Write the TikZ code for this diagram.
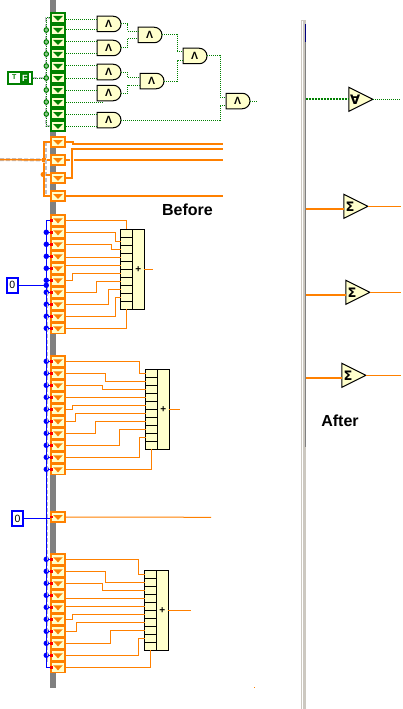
\documentclass[tikz,border=0pt]{standalone}
\usepackage{fontspec}
\setmainfont{Liberation Sans}
\newfontfamily\symfont{DejaVu Sans}
\usepackage{xcolor}
\usetikzlibrary{calc,shapes.geometric,shapes.misc}
\definecolor{wireOrange}{RGB}{255,128,0}
\definecolor{wireGreen}{RGB}{0,128,0}
\definecolor{cellYellow}{RGB}{255,255,204}
\definecolor{barGray}{RGB}{128,128,128}
\definecolor{sashGray}{RGB}{204,200,192}
\definecolor{antGray}{RGB}{192,192,200}
\tikzset{
  tunnel/.style={rectangle,fill=#1,minimum width=16pt,minimum height=12pt,inner sep=0pt,outer sep=0pt,
    path picture={
      \fill[cellYellow] ([shift={(-6,-4.2)}]path picture bounding box.center) rectangle ([shift={(6,4.2)}]path picture bounding box.center);
      \fill[#1] ([shift={(-4.8,-2)}]path picture bounding box.center) -- ([shift={(4.8,-2)}]path picture bounding box.center) -- ([shift={(0,3)}]path picture bounding box.center) -- cycle;}},
  gate/.style={rounded rectangle,rounded rectangle left arc=none,draw=black,line width=1pt,fill=cellYellow,minimum width=24pt,minimum height=15.5pt,inner sep=0pt,outer sep=0pt,font=\bfseries\fontsize{10.5}{10.5}\selectfont},
  tri/.style={isosceles triangle,isosceles triangle stretches,draw=black,line width=1pt,fill=cellYellow,minimum width=24pt,minimum height=24pt,inner sep=0pt,outer sep=0pt,font=\symfont\bfseries\fontsize{13}{13}\selectfont},
  portbox/.style={rectangle,draw=black,line width=1pt,fill=cellYellow,minimum width=12pt,minimum height=8pt,inner sep=0pt,outer sep=0pt},
  sumbox/.style={rectangle,draw=black,line width=1pt,fill=cellYellow,minimum width=11.4pt,minimum height=80pt,inner sep=0pt,outer sep=0pt,font=\bfseries\fontsize{10}{10}\selectfont},
  thinwire/.style={wireOrange,line width=1pt},
  thickwire/.style={wireOrange,line width=2pt},
  dotwire/.style={wireGreen,line width=1pt,dash pattern=on 1pt off 1pt},
  bluewire/.style={blue,line width=1pt},
  antwire/.style={antGray,line width=2pt,dash pattern=on 4pt off 2pt},
  bluedot/.style={circle,fill=blue,minimum size=5.5pt,inner sep=0pt,outer sep=0pt},
  greendot/.style={circle,draw=wireGreen,line width=1pt,fill=wireGreen!45,minimum size=4.5pt,inner sep=0pt,outer sep=0pt},
  orangedot/.style={circle,fill=wireOrange,minimum size=5pt,inner sep=0pt,outer sep=0pt},
  redtick/.style={rectangle,fill=red,minimum width=3pt,minimum height=2.5pt,inner sep=0pt,outer sep=0pt,anchor=west},
  constbox/.style={rectangle,draw=blue,line width=2pt,fill=white,minimum width=10.5pt,minimum height=15pt,inner sep=0pt,outer sep=0pt,font=\fontsize{10.5}{10.5}\selectfont},
  caption/.style={inner sep=0pt,font=\bfseries\fontsize{16}{16}\selectfont}
}
\begin{document}
\begin{tikzpicture}[x=1pt,y=-1pt]
  \useasboundingbox (0,0) rectangle (402,709);
  \fill[barGray] (50,0) rectangle (56,688);

  % green part
  \draw[antwire,line width=1.5pt] (52,18) -- (46,18) -- (46,126) -- (52,126);
  \draw[dotwire] (52,18) -- (46,18) -- (46,126) -- (52,126);
  \foreach \i in {1,...,10}
    \node[tunnel=wireGreen] (g\i) at (58,6+12*\i) {};
  \foreach \i in {2,...,9}
    \node[greendot] (d\i) at (46.3,6+12*\i) {};
  \node[rectangle,draw=wireGreen,line width=2pt,fill=white,minimum width=24pt,minimum height=12pt,inner sep=0pt] (cbool) at (20,78) {};
  \node[rectangle,fill=wireGreen,text=white,minimum width=9pt,minimum height=9.5pt,inner sep=0pt,font=\bfseries\fontsize{9}{9}\selectfont] (cboolF) at (24.8,78) {F};
  \node[text=wireGreen,inner sep=0pt,font=\bfseries\fontsize{7}{7}\selectfont] (cboolT) at (14.3,77.5) {T};
  \draw[antwire,line width=1.5pt] (cbool.east) -- (d6);
  \draw[dotwire] (cbool.east) -- (d6);

  \foreach \n/\x/\y/\ya/\yb in {A1/97/24/20/30, A2/97/48/42/54, A3/97/72/66/78, A4/97/93/90/97, A5/97/120/114/126,
      B1/138/35/31.5/39, B2/140/81/77/85, C1/183/56/52/61, D1/226/101/97/105} {
    \node[gate,anchor=west] (\n) at (\x,\y) {Λ};
    \coordinate (\n a) at (\x,\ya);
    \coordinate (\n b) at (\x,\yb);
  }
  \foreach \t/\c in {g1/A1a, g2/A1b, g3/A2a, g4/A2b, g5/A3a, g6/A3b, g7/A4a, g9/A5a, g10/A5b}
    \draw[dotwire] (\c -| \t.east) -- (\c);
  \coordinate (gstub) at (104,102);
  \draw[dotwire] (g8.east) -- (gstub);
  \foreach \f/\b/\c in {A1/127.5/B1a, A2/127.5/B1b, A3/127.5/B2a, A4/127.5/B2b,
      B1/177/C1a, B2/177/C1b, C1/220/D1a, A5/220/D1b}
    \draw[dotwire] (\f.east) -| (\b,0 |- \c) -- (\c);
  \coordinate (gout) at (257,101);
  \draw[dotwire] (D1.east) -- (gout);

  % thick orange part
  \foreach \i/\y in {1/142, 2/160, 3/178, 4/196}
    \node[tunnel=wireOrange] (o\i) at (58,\y) {};
  \node[orangedot] (os1) at (44,160) {};
  \node[orangedot] (os2) at (43,174.5) {};
  \coordinate (oleft) at (0,159.5);
  \coordinate (oEnd) at (223,0);
  \coordinate (o2a) at (70,160);
  \coordinate (o2b) at (74,160);
  \draw[antwire,line width=3pt] (oleft) -- (os1);
  \draw[antwire] (46,142) -- (46,196);
  \draw[wireOrange,line width=1.5pt] (oleft) -- (os1);
  \draw[thickwire] (o1.west) -| (os1) |- (o4.west);
  \draw[thickwire] (os1) -- (o2.west);
  \draw[thickwire] (os2) -- (os2 -| o3.west);
  \draw[thickwire] (o1.east) -- (72.7,142) -- (72.7,144) -- (oEnd |- 0,144);
  \draw[thickwire] (o3.east) -- (72,178) -- (72,148.7) -- (oEnd |- 0,148.7);
  \draw[thickwire] (o2.east) -- (o2a);
  \draw[thickwire] (o2b) -- (oEnd |- o2b);
  \draw[thickwire] (o4.east) -- (oEnd |- o4.east);
  \node[caption] (before) at (187.5,210) {Before};

  % adders
  \foreach \a/\x/\y/\e in {p/120.6/233.3/153, q/145.6/373.3/180, r/144.6/574.3/191} {
    \foreach \i in {1,...,10}
      \node[portbox] (\a\i) at (\x+6,\y+8*\i-8) {};
    \node[sumbox,anchor=north west] (\a sum) at (\x+12,\y-4) {+};
    \coordinate (\a out) at (\e,\y+36);
    \draw[thinwire] (\a sum.east) -- (\a out);
  }
  \foreach \a/\y/\first/\last in {t/220.3/2/10, u/361.3/1/10, v/559.3/1/9} {
    \foreach \i in {1,...,10} {
      \node[tunnel=wireOrange] (\a\i) at (58,\y+12*\i-12) {};
      \node[redtick] (k\a\i) at (\a\i.west) {};
    }
    \foreach \i in {\first,...,\last} {
      \node[bluedot] (j\a\i) at (46.3,\y+12*\i-12) {};
      \draw[bluewire] (j\a\i) -- (\a\i.west);
    }
  }
  \node[tunnel=wireOrange] (x1) at (58,517) {};
  \node[redtick] (kx1) at (x1.west) {};
  \coordinate (xout) at (211,517.3);
  \draw[thinwire] (x1.east) -- (xout);

  \draw[antwire,line width=1.5pt] (47.6,286) -- (47.6,662);
  \draw[bluewire] (t1.west) -- (t1.west -| jt2) -- (v10.west -| jt2) -- (v10.west);
  \node[constbox] (c1) at (12.3,285.3) {0};
  \node[bluedot] (j0) at (46.3,285.3) {};
  \node[constbox] (c2) at (17.5,518.5) {0};
  \draw[antwire,line width=1.5pt] (c1.east) -- (j0);
  \draw[bluewire] (c1.east) -- (j0);
  \draw[antwire,line width=1.5pt] (c2.east) -- (c2.east -| x1.west);
  \draw[bluewire] (c2.east) -- (c2.east -| x1.west);

  \foreach \f/\b/\c in {t2/115/p2, t3/111.3/p3, t6/72.3/p6, t7/96.3/p7, t8/108.3/p8, t9/115/p9,
      u1/139.3/q1, u2/105.7/q2, u3/102.3/q3, u5/72.3/q5, u6/75.3/q6, u7/95.3/q7, u8/119.3/q8, u9/139.3/q9,
      v1/138.3/r1, v2/105.7/r2, v3/102.3/r3, v6/72.3/r6, v7/76.3/r7, v8/110.3/r8, v9/138.3/r9}
    \draw[thinwire] (\f.east) -| (\b,0 |- \c.west) -- (\c.west);
  \foreach \f/\c in {t4/p4, t5/p5, u4/q4, v4/r4, v5/r5}
    \draw[thinwire] (\c.west -| \f.east) -- (\c.west);
  \foreach \f/\c in {t1/p1.north, t10/p10.south, u10/q10.south, v10/r10.south}
    \draw[thinwire] (\f.east) -| (\c);
  \fill[wireOrange] (254,687) rectangle (255,688);

  % after part
  \fill[sashGray] (301,20) rectangle (302.4,709);
  \node[rectangle,fill=sashGray,minimum width=2.7pt,minimum height=689pt,inner sep=0pt,outer sep=0pt,anchor=north west] (sash) at (303,20) {};
  \fill[sashGray] (301,20) rectangle (305.7,21.5);
  \fill[barGray] (304.6,42) rectangle (305.7,447);
  \fill[blue!50!black] (304.6,24) rectangle (305.7,42);
  \foreach \n/\x/\y/\sym in {n1/348.8/99.3/∀, s1/343.8/206.3/Σ, s2/345.8/292.3/Σ, s3/341.8/375.3/Σ} {
    \node[tri,anchor=lower side] (\n) at (\x,\y) {\sym};
  }
  \foreach \n/\y/\e in {n1/99/400, s1/208.7/401, s2/294.7/401, s3/377.7/401} {
    \coordinate (\n in) at (\n.lower side |- 0,\y);
    \coordinate (\n out) at (\e,0 |- \n.apex);
  }
  \draw[dotwire,line width=1.5pt,dash pattern=on 1pt off 0.5pt] (sash.east |- n1in) -- (n1in);
  \draw[dotwire] (n1.apex) -- (n1out);
  \foreach \n in {s1,s2,s3} {
    \draw[thickwire] (sash.east |- \n in) -- (\n in);
    \draw[thinwire] (\n.apex) -- (\n out);
  }
  \node[caption] (after) at (340,421) {After};
\end{tikzpicture}
\end{document}
